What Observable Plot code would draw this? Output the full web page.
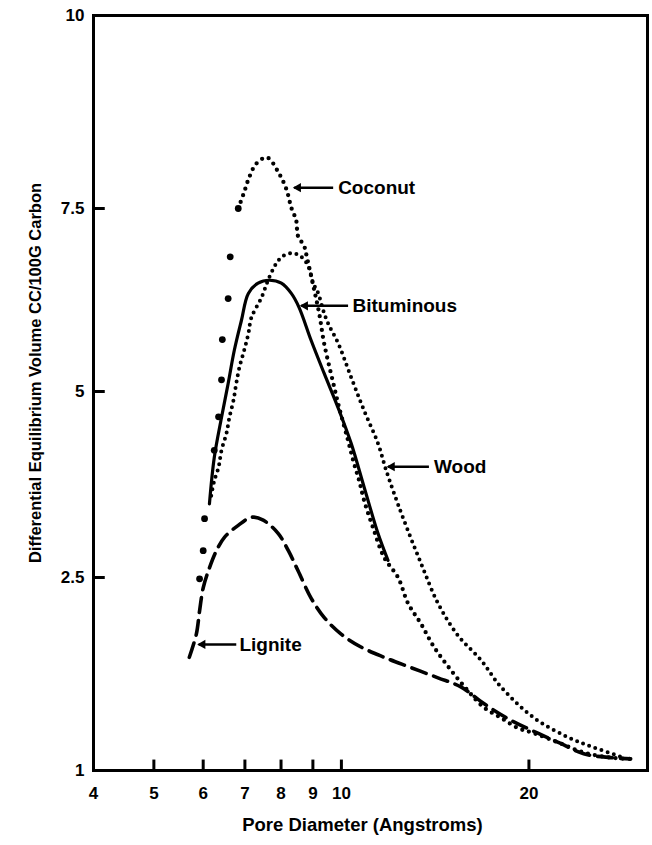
<!DOCTYPE html>
<html><head><meta charset="utf-8">
<script src="https://cdn.jsdelivr.net/npm/d3@7"></script>
<script src="https://cdn.jsdelivr.net/npm/@observablehq/plot@0.6"></script>
<style>body{margin:0;background:#fff}#chart svg{display:block}</style>
</head><body><div id="chart"></div>
<script>
// Axis ticks
const xTicks = [4, 5, 6, 7, 8, 9, 10, 20];
const yTicks = [1, 2.5, 5, 7.5, 10];
const yTickLabels = ["1", "2.5", "5", "7.5", "10"];
const xLabel = "Pore Diameter (Angstroms)";
const yLabel = "Differential Equilibrium Volume CC/100G Carbon";

// Series (x = pore diameter in Å, y = differential volume)
const coconutX = [5.92, 6.00, 6.03, 6.25, 6.35, 6.42, 6.44, 6.58, 6.63, 6.83, 6.98, 7.11, 7.30, 7.60, 7.92, 8.16, 8.31, 8.46, 8.52, 8.71, 8.81, 9.01, 9.21, 9.38, 9.70, 9.92, 10.25, 10.48, 10.68, 10.88, 11.24, 11.71, 12.33, 12.79, 13.42, 14.08, 14.99, 15.96, 16.93, 18.03, 19.20, 20.37, 22.49, 24.49, 27.05, 29.13];
const coconutY = [2.49, 2.86, 3.29, 4.21, 4.66, 5.16, 5.71, 6.27, 6.84, 7.50, 7.71, 7.90, 8.08, 8.16, 7.97, 7.75, 7.51, 7.34, 7.12, 6.99, 6.82, 6.45, 6.07, 5.66, 5.12, 4.78, 4.34, 4.03, 3.80, 3.53, 3.17, 2.77, 2.50, 2.30, 2.14, 1.96, 1.78, 1.62, 1.49, 1.41, 1.33, 1.29, 1.21, 1.14, 1.10, 1.09];

const woodX = [6.18, 6.25, 6.35, 6.42, 6.54, 6.61, 6.71, 6.78, 6.86, 6.98, 7.09, 7.17, 7.44, 7.66, 7.92, 8.10, 8.37, 8.62, 8.84, 9.01, 9.18, 9.35, 9.52, 9.88, 10.37, 10.88, 11.45, 11.80, 12.15, 12.60, 13.42, 14.29, 15.38, 16.74, 18.03, 20.37, 23.08, 25.41, 28.38];
const woodY = [3.60, 3.80, 3.98, 4.21, 4.44, 4.65, 4.88, 5.11, 5.33, 5.56, 5.79, 6.01, 6.28, 6.56, 6.79, 6.86, 6.89, 6.84, 6.72, 6.48, 6.34, 6.11, 5.93, 5.66, 5.19, 4.74, 4.30, 3.94, 3.63, 3.27, 2.69, 2.30, 2.05, 1.86, 1.65, 1.41, 1.26, 1.18, 1.10];

const bituminousX = [6.14, 6.25, 6.42, 6.58, 6.73, 6.91, 7.09, 7.35, 7.66, 8.01, 8.31, 8.55, 8.94, 9.38, 9.88, 10.37, 10.88, 11.45, 11.88];
const bituminousY = [3.49, 4.11, 4.65, 5.11, 5.56, 5.97, 6.34, 6.48, 6.52, 6.48, 6.34, 6.15, 5.70, 5.25, 4.78, 4.30, 3.71, 3.09, 2.73];

const ligniteX = [5.70, 5.85, 5.92, 6.00, 6.14, 6.30, 6.49, 6.83, 7.17, 7.49, 7.92, 8.22, 8.52, 8.94, 9.38, 9.99, 10.75, 11.71, 12.93, 14.29, 15.55, 16.93, 18.71, 20.67, 22.49, 24.49, 27.05, 29.13];
const ligniteY = [1.88, 2.06, 2.24, 2.42, 2.63, 2.86, 3.04, 3.20, 3.31, 3.27, 3.09, 2.86, 2.59, 2.34, 2.19, 2.06, 1.96, 1.88, 1.80, 1.72, 1.65, 1.52, 1.39, 1.29, 1.21, 1.13, 1.10, 1.09];

// Annotations (arrow tip, arrow tail, text start, y — in data units)
const annoNames = ["Coconut", "Bituminous", "Wood", "Lignite"];
const annoTipX = [8.40, 8.62, 11.88, 5.90];
const annoTailX = [9.70, 10.25, 13.82, 6.78];
const annoTextX = [9.88, 10.42, 14.08, 6.86];
const annoY = [7.77, 6.17, 3.99, 1.98];

const toRows = (xs, ys) => xs.map((x, i) => ({x, y: ys[i]}));
const coconut = toRows(coconutX, coconutY);
const coconutRise = coconut.slice(0, 10);
const coconutRest = coconut.slice(9);
const wood = toRows(woodX, woodY);
const bituminous = toRows(bituminousX, bituminousY);
const lignite = toRows(ligniteX, ligniteY);
const annos = annoNames.map((name, i) => ({name, tip: annoTipX[i], tail: annoTailX[i], tx: annoTextX[i], y: annoY[i]}));

// inner tick marks; their short length expressed in axis units (≈11 px)
const xDomain = [4, 31];
const yTickEnd = 1.085;  // top of bottom-axis ticks
const xTickEnd = 4.17;   // right end of left-axis ticks
const xTickRows = xTicks.slice(1).map(v => ({xa: v, xb: v, ya: yTicks[0], yb: yTickEnd}));
const yTickRows = yTicks.slice(1, -1).map(v => ({xa: xDomain[0], xb: xTickEnd, ya: v, yb: v}));
const tickRows = xTickRows.concat(yTickRows);

const font = "'Liberation Sans', Arial, Helvetica, sans-serif";

const chart = Plot.plot({
  width: 652,
  height: 845,
  marginTop: 15,
  marginRight: 5,
  marginBottom: 75,
  marginLeft: 93,
  style: {fontFamily: font, fontWeight: "bold", fontSize: "17px", color: "#000", background: "#fff"},
  x: {type: "log", domain: xDomain},
  y: {type: "linear", domain: yTicks, range: [770, 577, 391, 208, 15]},
  marks: [
    Plot.frame({strokeWidth: 3, stroke: "#000"}),
    // tick labels
    Plot.axisX({ticks: xTicks, tickSize: 0, tickPadding: 16, label: null,
      tickFormat: d => String(d), fontSize: 17, fontWeight: "bold"}),
    Plot.axisY({ticks: yTicks, tickSize: 0, tickPadding: 9, label: null,
      tickFormat: d => yTickLabels[yTicks.indexOf(d)], fontSize: 17, fontWeight: "bold"}),
    Plot.text([xLabel], {text: d => d, frameAnchor: "bottom", dy: 60, dx: -8, fontSize: 18.5, fontWeight: "bold"}),
    Plot.text([yLabel], {text: d => d, frameAnchor: "left", textAnchor: "middle", rotate: -90, dx: -58, dy: -20, fontSize: 16.5, fontWeight: "bold"}),
    // Bituminous: solid
    Plot.line(bituminous, {x: "x", y: "y", curve: "catmull-rom", stroke: "#000", strokeWidth: 3.2}),
    // Lignite: dashed
    Plot.line(lignite, {x: "x", y: "y", curve: "catmull-rom", stroke: "#000", strokeWidth: 3.6, strokeDasharray: "15 8"}),
    // Wood: dotted
    Plot.line(wood, {x: "x", y: "y", curve: "catmull-rom", stroke: "#000", strokeWidth: 4, strokeDasharray: "0 6.5", strokeLinecap: "round"}),
    // Coconut: sparse big dots on the rise, then dotted
    Plot.dot(coconutRise, {x: "x", y: "y", r: 3.4, fill: "#000"}),
    Plot.line(coconutRest, {x: "x", y: "y", curve: "catmull-rom", stroke: "#000", strokeWidth: 4.3, strokeDasharray: "0 7", strokeLinecap: "round"}),
    // Annotations
    Plot.link(annos, {x1: "tip", x2: "tail", y1: "y", y2: "y", stroke: "#000", strokeWidth: 2.5}),
    Plot.dot(annos, {x: "tip", y: "y", symbol: "triangle2", rotate: -90, r: 4.5, dx: 4, fill: "#000"}),
    Plot.text(annos, {x: "tx", y: "y", text: "name", textAnchor: "start", fontSize: 19, fontWeight: "bold"}),
    // inner ticks
    Plot.link(tickRows, {x1: "xa", x2: "xb", y1: "ya", y2: "yb", stroke: "#000", strokeWidth: 3})
  ]
});
document.getElementById("chart").append(chart);
</script>
</body></html>
